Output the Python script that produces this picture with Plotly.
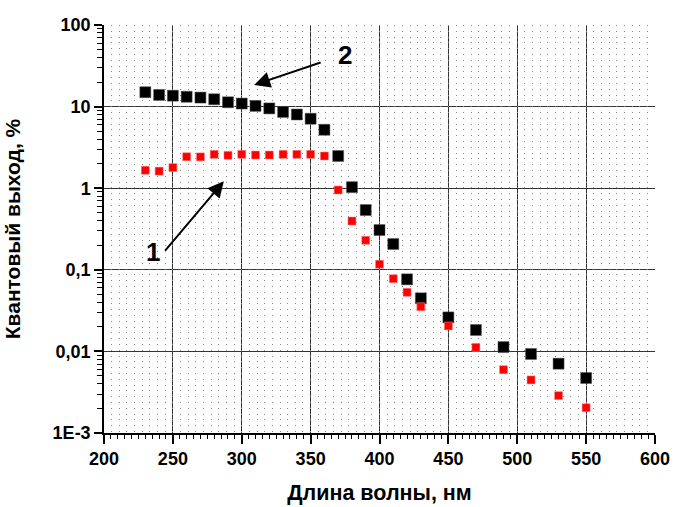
import math
import plotly.graph_objects as go

wavelength = [230, 240, 250, 260, 270, 280, 290, 300, 310, 320, 330, 340, 350, 360,
              370, 380, 390, 400, 410, 420, 430, 450, 470, 490, 510, 530, 550]
series2 = [15.0, 13.9, 13.6, 13.2, 12.9, 12.3, 11.3, 10.9, 10.2, 9.5, 8.6, 8.0, 7.1, 5.2,
           2.48, 1.03, 0.54, 0.307, 0.207, 0.0764, 0.0447, 0.0261, 0.0183, 0.0113,
           0.0093, 0.00707, 0.00472]
series1 = [1.66, 1.62, 1.79, 2.43, 2.42, 2.6, 2.53, 2.6, 2.55, 2.55, 2.6, 2.6, 2.6, 2.48,
           0.95, 0.396, 0.23, 0.117, 0.0778, 0.053, 0.0353, 0.0205, 0.0112, 0.00597,
           0.00447, 0.00287, 0.00204]

x_ticks = [200, 250, 300, 350, 400, 450, 500, 550, 600]
y_tickvals = [100, 10, 1, 0.1, 0.01, 0.001]
y_ticktext = ["100", "10", "1", "0,1", "0,01", "1E-3"]
y_minor_mantissas = [2, 3, 4, 5, 6, 7, 8, 9]

x_title = "Длина волны, нм"
y_title = "Квантовый выход, %"

FONT = "Liberation Sans, Arial, sans-serif"
L = math.log10

y_minor_vals = [m * d for d in y_tickvals[1:] for m in y_minor_mantissas]

fig = go.Figure()
# invisible helper trace so the dotted-grid overlay axis is drawn
fig.add_trace(go.Scatter(
    x=wavelength, y=series2, xaxis="x2", mode="markers",
    marker=dict(opacity=0), hoverinfo="skip", showlegend=False,
))
fig.add_trace(go.Scatter(
    x=wavelength, y=series2, mode="markers", name="2",
    marker=dict(symbol="square", size=11, color="black",
                line=dict(color="#555", width=0.5)),
))
fig.add_trace(go.Scatter(
    x=wavelength, y=series1, mode="markers", name="1",
    marker=dict(symbol="square", size=8, color="#ff0000",
                line=dict(color="#ff8080", width=0.5)),
))

# arrows and labels (log axis -> annotation y in log10 units)
fig.add_annotation(x=309, y=L(18.4), xref="x", yref="y", text="", showarrow=True,
                   ax=68, ay=-23, arrowhead=2, arrowsize=1.6, arrowwidth=2,
                   arrowcolor="black")
fig.add_annotation(x=375, y=L(42.9), xref="x", yref="y", text="<b>2</b>", showarrow=False,
                   font=dict(family=FONT, size=26, color="black"))
fig.add_annotation(x=287, y=L(1.22), xref="x", yref="y", text="", showarrow=True,
                   ax=-60, ay=71, arrowhead=2, arrowsize=1.6, arrowwidth=2,
                   arrowcolor="black")
fig.add_annotation(x=235.6, y=L(0.165), xref="x", yref="y", text="<b>1</b>", showarrow=False,
                   font=dict(family=FONT, size=26, color="black"))

fig.update_layout(
    width=676, height=507,
    margin=dict(l=104, r=21, t=25, b=74),
    paper_bgcolor="white", plot_bgcolor="white",
    showlegend=False,
    font=dict(family=FONT, color="black"),
    xaxis=dict(
        range=[200, 600], tickvals=x_ticks, automargin=False,
        showline=True, linecolor="black", linewidth=1.5,
        ticks="outside", ticklen=9, tickwidth=1.5, tickcolor="black",
        showgrid=True, gridcolor="#333", gridwidth=1,
        zeroline=False,
        tickfont=dict(family=FONT, size=18, color="black", weight="bold"),
        title=dict(text=x_title, font=dict(family=FONT, size=21.5, color="black", weight="bold"),
                   standoff=17),
        minor=dict(dtick=5, ticks="outside", ticklen=4, tickwidth=1, tickcolor="black",
                   showgrid=False),
    ),
    xaxis2=dict(
        range=[200, 600], overlaying="x", anchor="y", side="bottom",
        tick0=200, dtick=50 / 9, showticklabels=False, ticks="",
        showline=False, zeroline=False, automargin=False,
        showgrid=True, gridcolor="#888", gridwidth=1, griddash="1px,4.8px",
    ),
    yaxis=dict(
        type="log", range=[-3, 2], automargin=False,
        tickvals=y_tickvals, ticktext=y_ticktext,
        showline=True, linecolor="black", linewidth=1.5,
        ticks="outside", ticklen=8, tickwidth=1.5, tickcolor="black",
        showgrid=True, gridcolor="#333", gridwidth=1,
        zeroline=False,
        tickfont=dict(family=FONT, size=18, color="black", weight="bold"),
        title=dict(text=y_title, font=dict(family=FONT, size=21, color="black", weight="bold"),
                   standoff=26),
        minor=dict(tickvals=y_minor_vals, ticks="outside", ticklen=5, tickwidth=1,
                   tickcolor="black", showgrid=False),
    ),
)

fig.write_html("out.html")
